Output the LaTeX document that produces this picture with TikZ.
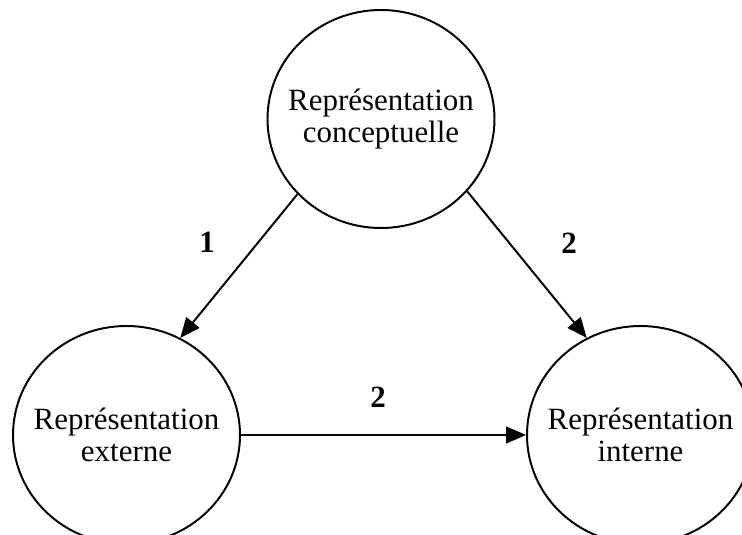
\documentclass[tikz,border=0pt]{standalone}
\usepackage{fontspec}
\setmainfont{Liberation Serif}
\usepackage{tikz}
\usetikzlibrary{shapes.geometric}
\usetikzlibrary{arrows.meta}

\begin{document}
\begin{tikzpicture}[
	repr/.style={ellipse, draw, line width=1.4pt, inner xsep=-0.7cm, inner ysep=0pt, minimum width=5.675cm, minimum height=5.45cm, align=center, font=\fontsize{22}{23}\selectfont},
	fleche/.style={line width=1.4pt, -{Triangle[length=0.5cm,width=0.42cm]}},
	num/.style={font=\fontsize{22}{22}\selectfont\bfseries}
	]
	\useasboundingbox (0,0) rectangle (18.55,-13.375);
	
	\node[repr] (concept) at (9.525, -2.975) {Représentation\\conceptuelle};
	\node[repr] (externe) at (3.1625, -10.875) {Représentation\\externe};
	\node[repr] (interne) at (16.0125, -10.875) {Représentation\\interne};
	
	\draw[fleche] (concept.222) -- (externe.61);
	\draw[fleche] (concept.320) -- (interne.119.5);
	\draw[fleche] (externe.east) -- (interne.west);
	
	\node[num] (un) at (5.175, -6.05) {1};
	\node[num] (deuxa) at (14.225, -6.075) {2};
	\node[num] (deuxb) at (9.45, -9.925) {2};
\end{tikzpicture}
\end{document}
